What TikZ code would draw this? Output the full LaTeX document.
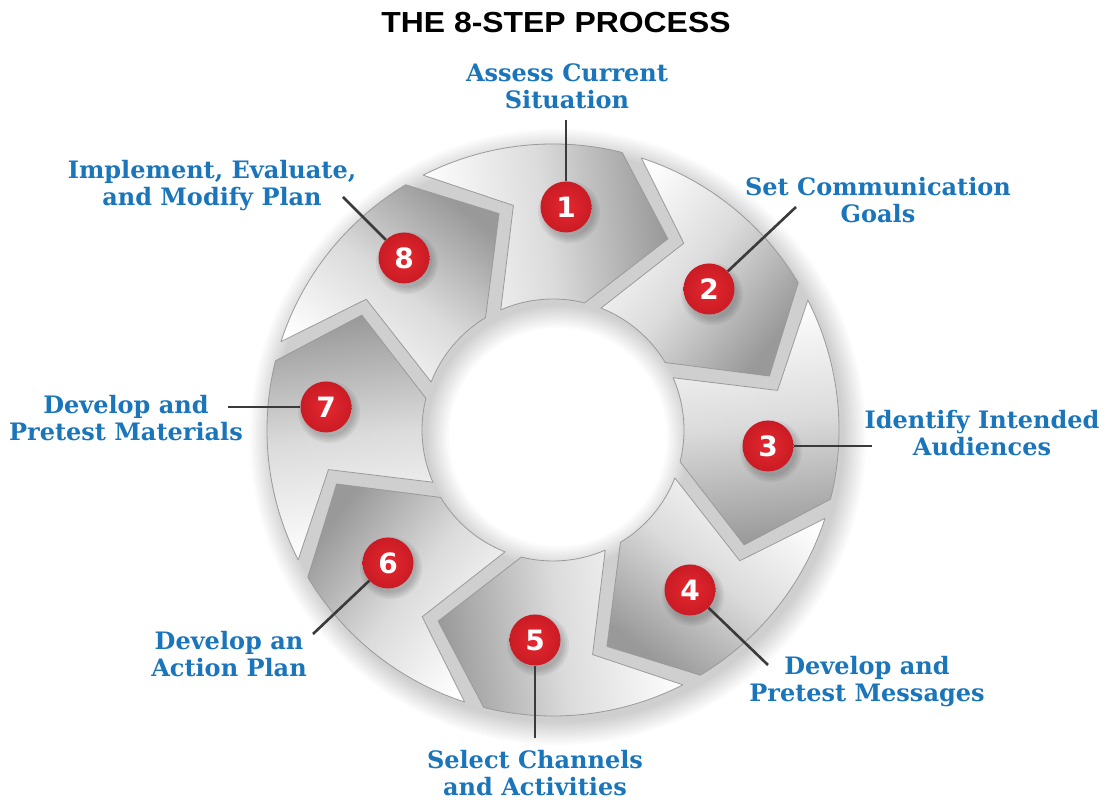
\documentclass[tikz,border=0pt]{standalone}
\usepackage{fontspec}
\setmainfont{DejaVu Serif}
\newfontfamily\titlefont{Liberation Sans}
\newfontfamily\numfont{DejaVu Sans}
\usetikzlibrary{calc}

\definecolor{labelblue}{HTML}{1A75BB}
\definecolor{pinred}{HTML}{E42830}
\definecolor{pinredout}{HTML}{CA1B24}
\definecolor{leadergray}{HTML}{3A3A3A}
\definecolor{segedge}{HTML}{9A9A9A}

\tikzset{
  steplabel/.style={text=labelblue, font=\bfseries\fontsize{24}{27}\selectfont, align=center, inner sep=0pt},
  pin/.style={circle, minimum size=51pt, inner sep=0pt, inner color=pinred, outer color=pinredout,
    text=white, font=\numfont\bfseries\fontsize{28}{28}\selectfont},
  leaderline/.style={draw=leadergray, line width=2.6pt},
  segment/.style={draw=segedge, line width=0.8pt, line join=round,
    top color=white, bottom color=black!40, middle color=black!14},
}

\begin{document}
\begin{tikzpicture}[x=1pt, y=1pt]
  \useasboundingbox (0,0) rectangle (1106,800);
  \fill[white] (0,0) rectangle (1106,800);

  % ring centre
  \coordinate (C) at (553,370);

  % soft shadow under the ring
  \foreach \i in {0,...,11}{
    \fill[black, opacity=0.016, even odd rule]
      ($(C)+(5,-7)$) circle ({286+\i*2}) circle ({131-\i*2});
  }

  % eight chevron segments, running clockwise
  \foreach \k in {1,...,8}{
    \pgfmathsetmacro\b{117-45*(\k-1)}
    \pgfmathsetmacro\m{\b-20}
    \path[segment, shading angle=\m]
      ($(C)+(\b:286)$) arc[start angle=\b, end angle=\b-41, radius=286]
      -- ($(C)+(\b-58:223)$)
      -- ($(C)+(\b-41:131)$) arc[start angle=\b-41, end angle=\b-3.5, radius=131]
      -- ($(C)+(\b-17:228)$) -- cycle;
  }

  % marker positions
  \coordinate (c1) at (566,593);
  \coordinate (c2) at (709,511);
  \coordinate (c3) at (768,354);
  \coordinate (c4) at (690,210);
  \coordinate (c5) at (535,160);
  \coordinate (c6) at (388,237);
  \coordinate (c7) at (326,393);
  \coordinate (c8) at (404,542);

  % shadows under the markers
  \foreach \k in {1,...,8}{
    \foreach \r in {25,27,29,31}{
      \fill[black, opacity=0.05] ($(c\k)+(3,-5)$) circle (\r);
    }
  }

  % numbered markers
  \foreach \k in {1,...,8}{
    \node[pin] (n\k) at (c\k) {\k};
  }

  % free ends of the leader lines
  \coordinate (a1) at (566,680);
  \coordinate (a2) at (796,593);
  \coordinate (a3) at (872,354);
  \coordinate (a4) at (768,135);
  \coordinate (a5) at (535,62);
  \coordinate (a6) at (313,166);
  \coordinate (a7) at (228,393);
  \coordinate (a8) at (343,603);
  \foreach \k in {1,...,8}{
    \draw[leaderline] (a\k) -- (n\k);
  }

  % title
  \node[font=\titlefont\bfseries\fontsize{29}{29}\selectfont, inner sep=0pt] (title) at (556,777)
    {\scalebox{1.1}[1]{THE 8-STEP PROCESS}};

  % step labels
  \node[steplabel] (t1) at (567,714) {Assess Current\\Situation};
  \node[steplabel] (t2) at (878,600) {Set Communication\\Goals};
  \node[steplabel] (t3) at (982,367) {Identify Intended\\Audiences};
  \node[steplabel] (t4) at (867,118) {Develop and\\Pretest Messages};
  \node[steplabel] (t5) at (535,27)  {Select Channels\\and Activities};
  \node[steplabel] (t6) at (229,146) {Develop an\\Action Plan};
  \node[steplabel] (t7) at (126,382) {Develop and\\Pretest Materials};
  \node[steplabel] (t8) at (212,614) {Implement, Evaluate,\\and Modify Plan};
\end{tikzpicture}
\end{document}
